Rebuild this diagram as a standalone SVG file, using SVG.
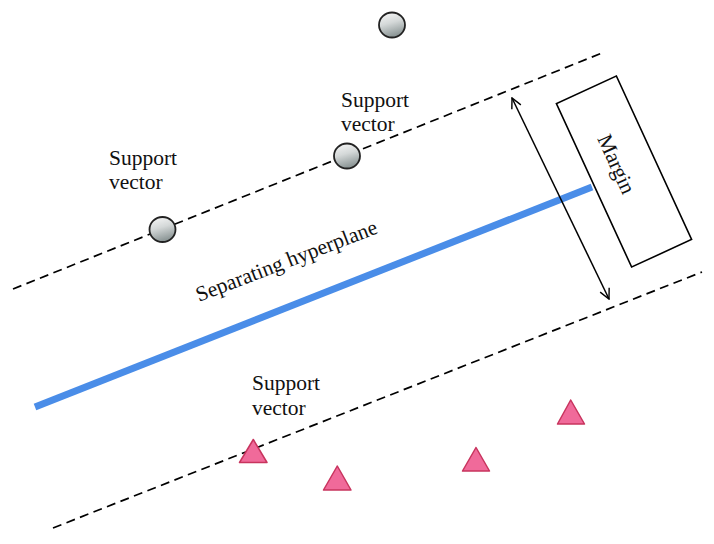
<svg xmlns="http://www.w3.org/2000/svg" width="714" height="544" viewBox="0 0 714 544">
<defs>
<linearGradient id="ball" x1="0" y1="0" x2="0.3" y2="1">
<stop offset="0" stop-color="#fafafa"/>
<stop offset="0.5" stop-color="#d4d8d8"/>
<stop offset="1" stop-color="#8e9898"/>
</linearGradient>
<marker id="ah" viewBox="0 0 12 12" refX="11" refY="6" markerWidth="12" markerHeight="12" markerUnits="userSpaceOnUse" orient="auto-start-reverse">
<path d="M1,1 L11,6 L1,11" fill="none" stroke="#000" stroke-width="1.4"/>
</marker>
</defs>
<style>
.dash{stroke:#000;stroke-width:1.7;stroke-dasharray:9,5.5;fill:none}
.sv{fill:url(#ball);stroke:#222;stroke-width:1.8}
.tri{fill:#f06a9a;stroke:#c8345e;stroke-width:1.5;stroke-linejoin:round}
.lbl{font-family:"Liberation Serif","Times New Roman",serif;font-size:21.5px;fill:#111}
</style>
<rect width="714" height="544" fill="#fff"/>
<g id="connectors">
<line class="dash" x1="13" y1="289" x2="602" y2="53"/>
<line class="dash" x1="53" y1="528" x2="702" y2="272"/>
<line x1="35" y1="407" x2="592" y2="187" stroke="#4a8de8" stroke-width="7"/>
<line x1="512" y1="98" x2="609" y2="299" stroke="#000" stroke-width="1.5" marker-start="url(#ah)" marker-end="url(#ah)"/>
</g>
<g id="margin-box">
<rect x="-33" y="-90" width="66" height="180" transform="translate(624,171.5) rotate(-24.7)" fill="#fff" stroke="#000" stroke-width="1.6"/>
<text class="lbl" text-anchor="middle" font-size="22" transform="translate(610,167) rotate(65.5)">Margin</text>
</g>
<g id="hyperplane-label">
<text class="lbl" transform="translate(199,302) rotate(-21)" font-size="21.5">Separating hyperplane</text>
</g>
<g id="ball-top"><ellipse class="sv" cx="392" cy="25" rx="13" ry="12.5"/></g>
<g id="ball-sv1"><ellipse class="sv" cx="347" cy="156" rx="13" ry="12.5"/></g>
<g id="ball-sv2"><ellipse class="sv" cx="162.5" cy="229.5" rx="13" ry="12.5"/></g>
<g id="label-sv1"><text class="lbl" x="341" y="107">Support</text><text class="lbl" x="341" y="131">vector</text></g>
<g id="label-sv2"><text class="lbl" x="109" y="165">Support</text><text class="lbl" x="109" y="189">vector</text></g>
<g id="label-sv3"><text class="lbl" x="252" y="390">Support</text><text class="lbl" x="252" y="415">vector</text></g>
<g id="tri1"><polygon class="tri" points="253.3,439.5 239.5,462.5 267,462.5"/></g>
<g id="tri2"><polygon class="tri" points="337.3,466 323.5,490 351,490"/></g>
<g id="tri3"><polygon class="tri" points="476,447.5 462.5,471 489.5,471"/></g>
<g id="tri4"><polygon class="tri" points="570.7,400 557.5,424 584.5,424"/></g>
</svg>
